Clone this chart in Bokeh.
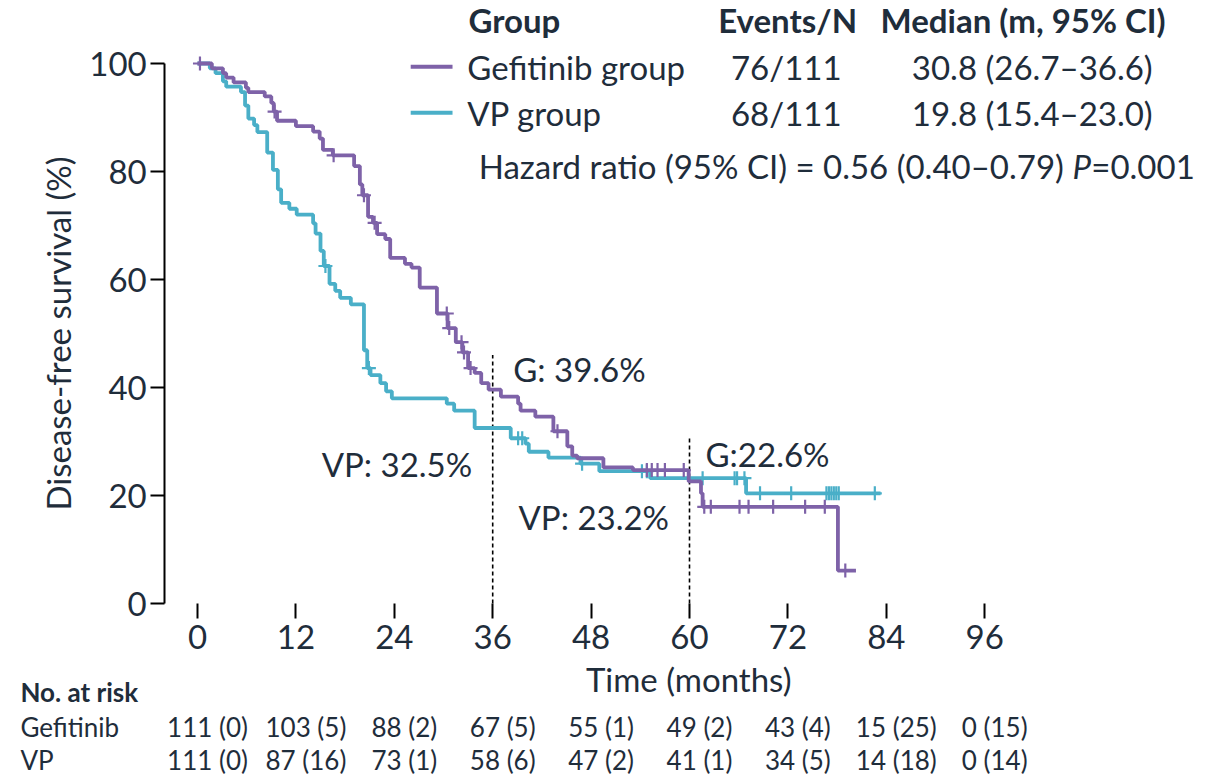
import numpy as np
from bokeh.plotting import figure
from bokeh.models import Range1d, FixedTicker
from bokeh.core.properties import value
from bokeh.embed import file_html
from bokeh.resources import INLINE

# ---------------- data ----------------
month_ticks = [0, 12, 24, 36, 48, 60, 72, 84, 96]
pct_ticks = [0, 20, 40, 60, 80, 100]

# Gefitinib arm: step times (months) and survival (%) after each step
gef_t = [0, 1.75, 3.1, 3.5, 4.4, 5.9, 6.2, 8.2, 9.0, 9.3,
         9.7, 12.0, 14.1, 14.9, 15.3, 16.5, 19.1, 19.8, 20.1, 20.8,
         21.4, 21.9, 22.9, 23.5, 25.3, 26.1, 27.1, 29.2, 30.5, 31.5,
         32.3, 33.0, 33.8, 34.6, 35.5, 37.0, 39.1, 39.4, 41.2, 43.4,
         45.1, 45.7, 46.3, 49.5, 53.1, 59.9, 61.4, 61.6, 78.1]
gef_s = [100, 99.1, 98.2, 97.4, 96.5, 95.5, 94.7, 93.9, 92.7, 91.1,
         89.4, 88.4, 87.4, 86.1, 84.0, 83.0, 81.0, 77.6, 75.6, 71.6,
         70.5, 68.4, 67.5, 64.0, 62.9, 62.2, 58.5, 53.7, 51.0, 48.4,
         46.5, 43.6, 42.7, 40.8, 39.6, 38.3, 37.0, 35.7, 34.6, 31.9,
         29.1, 27.4, 26.9, 25.2, 24.7, 22.6, 20.4, 17.9, 6.1]
gef_end = 80.3
gef_censor = [0.3, 9.4, 16.6, 20.3, 21.6, 30.4, 30.7, 32.2, 32.5, 33.3,
              43.9, 54.8, 55.4, 56.1, 57.0, 59.3, 61.8, 62.6, 66.1, 67.2,
              70.2, 74.1, 76.5, 79.0]

# VP arm
vp_t = [0, 1.5, 2.2, 3.1, 3.5, 5.3, 5.8, 6.2, 6.9, 7.3,
        8.5, 9.2, 9.8, 10.2, 11.2, 12.1, 14.1, 14.4, 15.0, 15.4,
        16.1, 16.8, 17.4, 18.7, 20.3, 20.7, 21.1, 22.3, 23.0, 23.7,
        30.4, 31.3, 33.8, 38.2, 40.0, 40.4, 42.8, 46.7, 49.0, 55.2,
        66.9]
vp_s = [100, 99.1, 98.2, 96.7, 95.7, 94.7, 92.2, 89.8, 88.6, 87.3,
        83.5, 80.3, 76.7, 74.2, 73.1, 72.0, 70.4, 68.5, 65.3, 62.5,
        59.2, 57.9, 56.6, 55.4, 46.9, 43.6, 42.3, 40.8, 39.3, 38.0,
        37.0, 35.7, 32.5, 30.6, 29.6, 28.1, 27.0, 25.9, 24.5, 23.2,
        20.4]
vp_end = 83.3
vp_censor = [15.6, 20.9, 39.1, 39.6, 46.9, 54.2, 54.8, 61.6, 65.5, 65.8,
             66.7, 68.6, 72.4, 76.7, 77.0, 77.3, 77.6, 77.9, 78.2, 82.6]

# landmark survival estimates
landmark_t = [36, 60]
landmark_top = [46, 31]

# number at risk (censored) table
risk_t = month_ticks
risk_gef = ["111 (0)", "103 (5)", "88 (2)", "67 (5)", "55 (1)", "49 (2)",
            "43 (4)", "15 (25)", "0 (15)"]
risk_vp = ["111 (0)", "87 (16)", "73 (1)", "58 (6)", "47 (2)", "41 (1)",
           "34 (5)", "14 (18)", "0 (14)"]

# summary table
groups = ["Gefitinib group", "VP group"]
events = ["76/111", "68/111"]
medians = ["30.8 (26.7\u201336.6)", "19.8 (15.4\u201323.0)"]

# ---------------- styling ----------------
PURPLE = "#7E62A8"
CYAN = "#4AAFC8"
INK = "#1f2d3b"
FONT = value("Lato")
BIG = value("33px")
SMALL = value("26px")

W, H = 1231, 775
x0_px, px_per_month = 197.0, 8.2
y0_px, px_per_pct = 603.0, 5.40

p = figure(width=W, height=H,
           x_range=Range1d(-x0_px / px_per_month, (W - x0_px) / px_per_month),
           y_range=Range1d((y0_px - H) / px_per_pct, y0_px / px_per_pct),
           output_backend="svg", toolbar_location=None, min_border=0,
           outline_line_color=None, background_fill_color="white")
p.grid.visible = False

# axes
xa = p.xaxis[0]
xa.fixed_location = 0
xa.bounds = (0, 96)
xa.ticker = FixedTicker(ticks=month_ticks)
xa.axis_line_color = None
xa.major_tick_out = 15
xa.major_tick_in = 0
xa.major_tick_line_width = 2
xa.major_tick_line_color = "black"
xa.minor_tick_line_color = None
xa.major_label_standoff = 6
xa.major_label_text_font = "Lato"
xa.major_label_text_font_size = "33px"
xa.major_label_text_color = INK

ya = p.yaxis[0]
ya.fixed_location = -4.0
ya.bounds = (0, 100)
ya.ticker = FixedTicker(ticks=pct_ticks)
ya.axis_line_width = 2
ya.axis_line_color = "black"
ya.major_tick_out = 14
ya.major_tick_in = 0
ya.major_tick_line_width = 2
ya.major_tick_line_color = "black"
ya.minor_tick_line_color = None
ya.major_label_standoff = 4
ya.major_label_text_font = "Lato"
ya.major_label_text_font_size = "33px"
ya.major_label_text_color = INK
ya.axis_label = "Disease-free survival (%)"
ya.axis_label_text_font = "Lato"
ya.axis_label_text_font_size = "33px"
ya.axis_label_text_font_style = "normal"
ya.axis_label_text_color = INK
ya.axis_label_standoff = 8


def km_path(t, s, end):
    return list(t) + [end], list(s) + [s[-1]]


def at(t, s, c):
    idx = np.searchsorted(np.asarray(t), np.asarray(c), side="right") - 1
    return list(np.asarray(s)[idx])


# landmark dashed lines
p.segment(x0=landmark_t, x1=landmark_t, y0=[0, 0], y1=landmark_top,
          line_color="black", line_width=1.6, line_dash="4 3")

for t, s, end, cens, col in [(vp_t, vp_s, vp_end, vp_censor, CYAN),
                             (gef_t, gef_s, gef_end, gef_censor, PURPLE)]:
    xs, ys = km_path(t, s, end)
    p.step(xs, ys, mode="after", line_color=col, line_width=3.8)
    p.scatter(cens, at(t, s, cens), marker="cross", size=14,
              line_color=col, line_width=2.2)

# summary table (legend)
p.text(x=[33.05, 63.5, 83.3], y=[108.0] * 3,
       text=["Group", "Events/N", "Median (m, 95% CI)"],
       text_font=FONT, text_font_size=BIG, text_font_style="bold",
       text_color=INK, text_baseline="middle")
p.segment(x0=[26.0, 26.0], x1=[31.1, 31.1], y0=[99.4, 90.9], y1=[99.4, 90.9],
          line_color=[PURPLE, CYAN], line_width=4)
p.text(x=[32.9, 32.9], y=[99.4, 90.9], text=groups, text_font=FONT,
       text_font_size=BIG, text_color=INK, text_baseline="middle")
p.text(x=[71.8, 71.8], y=[99.4, 90.9], text=events, text_font=FONT,
       text_font_size=BIG, text_color=INK, text_baseline="middle",
       text_align="center")
p.text(x=[101.8, 101.8], y=[99.4, 90.9], text=medians, text_font=FONT,
       text_font_size=BIG, text_color=INK, text_baseline="middle",
       text_align="center")
p.text(x=[34.3], y=[81.1],
       text=["Hazard ratio (95% CI) = 0.56 (0.40\u20130.79)"],
       text_font=FONT, text_font_size=BIG, text_color=INK,
       text_baseline="middle")
p.text(x=[106.7], y=[81.1], text=["P"], text_font=FONT, text_font_size=BIG,
       text_font_style="italic", text_color=INK, text_baseline="middle")
p.text(x=[109.0], y=[81.1], text=["=0.001"], text_font=FONT,
       text_font_size=BIG, text_color=INK, text_baseline="middle")

# landmark labels
p.text(x=[38.5, 33.5, 61.95, 39.15], y=[43.4, 25.8, 27.6, 16.1],
       text=["G: 39.6%", "VP: 32.5%", "G:22.6%", "VP: 23.2%"],
       text_align=["left", "right", "left", "left"],
       text_font=FONT, text_font_size=BIG, text_color=INK,
       text_baseline="middle")

# x axis title
p.text(x=[59.9], y=[-14.0], text=["Time (months)"], text_font=FONT,
       text_font_size=BIG, text_color=INK, text_baseline="middle",
       text_align="center")

# number at risk
p.text(x=[-21.6], y=[-16.3], text=["No. at risk"], text_font=FONT,
       text_font_size=SMALL, text_font_style="bold", text_color=INK,
       text_baseline="middle")
p.text(x=[-21.6, -21.6], y=[-22.8, -28.9], text=["Gefitinib", "VP"],
       text_font=FONT, text_font_size=SMALL, text_color=INK,
       text_baseline="middle")
p.text(x=risk_t, y=[-22.8] * len(risk_t), text=risk_gef, x_offset=10,
       text_font=FONT, text_font_size=SMALL, text_color=INK,
       text_baseline="middle", text_align="center")
p.text(x=risk_t, y=[-28.9] * len(risk_t), text=risk_vp, x_offset=10,
       text_font=FONT, text_font_size=SMALL, text_color=INK,
       text_baseline="middle", text_align="center")

open("out.html", "w").write(file_html(p, INLINE))
